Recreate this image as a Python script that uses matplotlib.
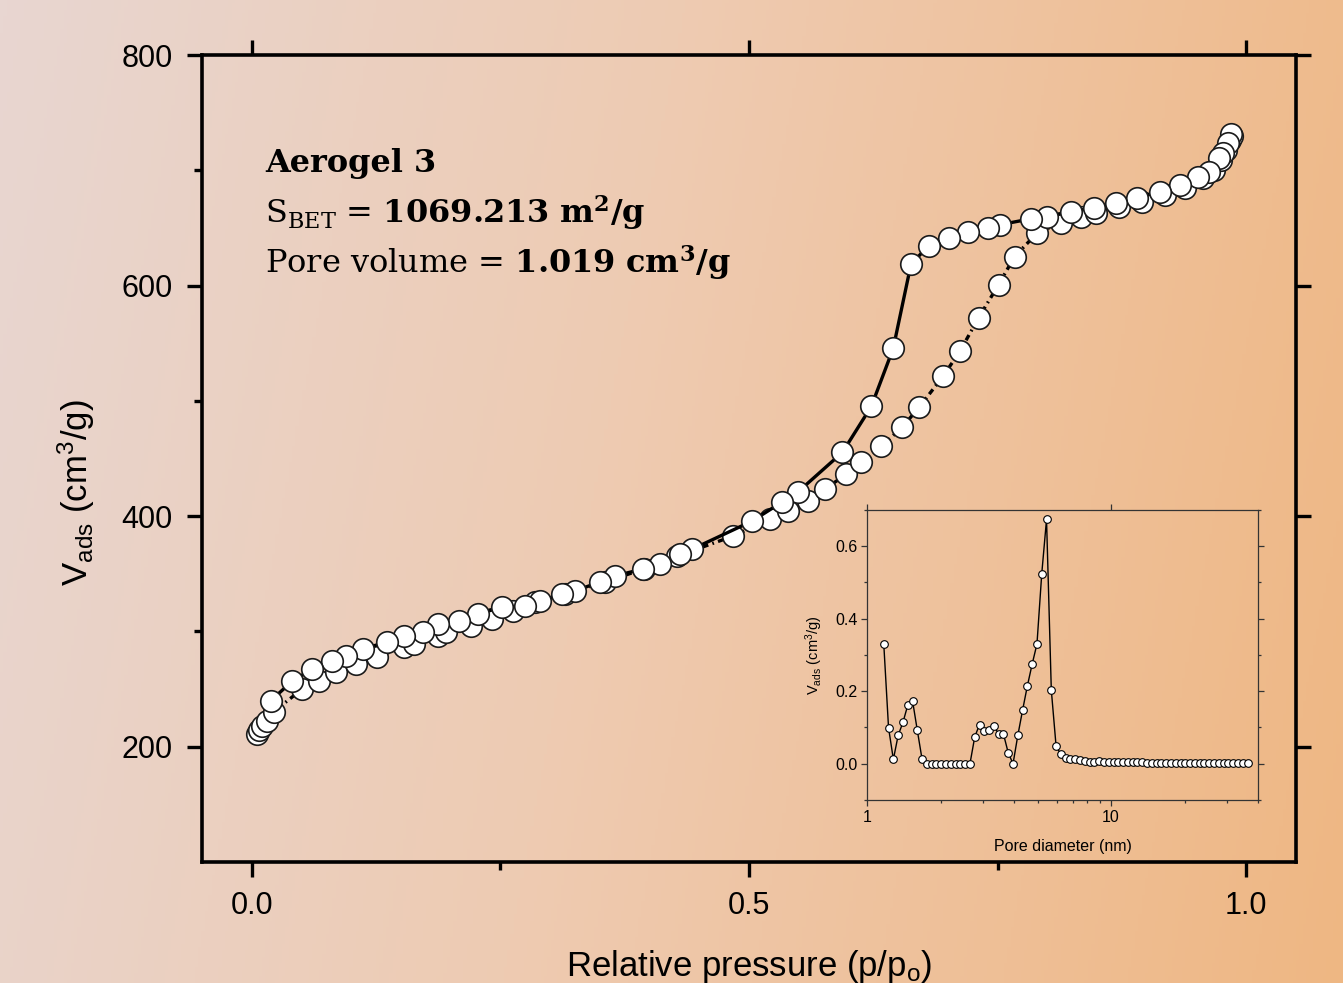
import matplotlib
matplotlib.use("Agg")
import matplotlib.pyplot as plt
import numpy as np
from matplotlib.colors import LinearSegmentedColormap
from matplotlib.ticker import MultipleLocator, FixedLocator, NullFormatter

plt.rcParams["font.family"] = ["Liberation Sans", "DejaVu Sans"]
plt.rcParams["mathtext.fontset"] = "custom"
plt.rcParams["mathtext.rm"] = "Liberation Sans"
plt.rcParams["mathtext.bf"] = "DejaVu Serif:bold"
plt.rcParams["mathtext.default"] = "regular"

# N2 isotherm, adsorption branch (p/p0, cm3/g)
ads_p = [0.005, 0.007, 0.010, 0.015, 0.022, 0.051, 0.068, 0.085, 0.105, 0.126,
         0.153, 0.163, 0.187, 0.195, 0.220, 0.242, 0.263, 0.285, 0.315, 0.355,
         0.394, 0.428, 0.484, 0.521, 0.539, 0.559, 0.576, 0.598, 0.613, 0.633,
         0.654, 0.671, 0.695, 0.712, 0.731, 0.751, 0.767, 0.790, 0.814, 0.834,
         0.849, 0.872, 0.895, 0.918, 0.938, 0.956, 0.968, 0.975, 0.980, 0.984,
         0.986]
ads_v = [211.3, 214.7, 218.2, 222.5, 230.3, 250.2, 257.1, 264.9, 271.9, 277.9,
         286.6, 289.2, 296.1, 299.6, 304.8, 310.8, 317.7, 325.5, 332.5, 342.9,
         354.1, 365.4, 382.7, 397.4, 404.3, 413.0, 423.4, 436.4, 446.8, 460.6,
         477.1, 494.4, 521.2, 542.9, 572.3, 600.9, 625.1, 645.9, 654.5, 659.7,
         663.2, 668.4, 672.7, 678.8, 684.8, 693.5, 700.4, 709.1, 717.7, 726.4,
         729.9]

# desorption branch
des_p = [0.985, 0.982, 0.977, 0.973, 0.963, 0.951, 0.933, 0.913, 0.890, 0.869,
         0.847, 0.824, 0.800, 0.784, 0.752, 0.740, 0.720, 0.701, 0.681, 0.663,
         0.645, 0.623, 0.594, 0.549, 0.533, 0.503, 0.443, 0.431, 0.411, 0.393,
         0.365, 0.350, 0.325, 0.312, 0.290, 0.275, 0.252, 0.228, 0.208, 0.187,
         0.172, 0.153, 0.136, 0.112, 0.095, 0.081, 0.061, 0.041, 0.019]
des_v = [731.6, 723.8, 715.2, 710.8, 698.7, 694.4, 687.5, 681.4, 676.2, 671.9,
         667.6, 664.1, 659.7, 658.0, 652.8, 650.2, 646.8, 641.6, 634.6, 619.0,
         545.5, 495.2, 455.4, 420.8, 412.1, 395.7, 371.4, 367.1, 358.4, 354.1,
         348.1, 342.9, 335.1, 332.5, 326.4, 322.1, 321.2, 315.2, 309.1, 306.5,
         299.6, 296.1, 290.9, 284.8, 278.8, 274.5, 267.5, 257.1, 239.8]

# pore size distribution (inset)
pore_d = [1.171, 1.225, 1.282, 1.341, 1.403, 1.468, 1.536, 1.607, 1.681, 1.759,
          1.840, 1.925, 2.014, 2.107, 2.204, 2.306, 2.413, 2.524, 2.641, 2.763,
          2.890, 3.024, 3.163, 3.310, 3.462, 3.622, 3.790, 3.965, 4.148, 4.340,
          4.540, 4.750, 4.969, 5.199, 5.439, 5.690, 5.953, 6.228, 6.516, 6.817,
          7.132, 7.461, 7.806, 8.167, 8.544, 8.939, 9.352, 9.784, 10.24, 10.71,
          11.20, 11.72, 12.26, 12.83, 13.42, 14.04, 14.69, 15.37, 16.08, 16.82,
          17.60, 18.41, 19.26, 20.15, 21.08, 22.06, 23.08, 24.14, 25.26, 26.42,
          27.64, 28.92, 30.26, 31.65, 33.12, 34.65, 36.25]
pore_v = [0.330, 0.099, 0.012, 0.078, 0.114, 0.161, 0.174, 0.092, 0.012, 0.0,
          0.0, 0.0, 0.0, 0.0, 0.0, 0.0, 0.0, 0.0, 0.0, 0.074,
          0.108, 0.090, 0.092, 0.104, 0.082, 0.082, 0.030, 0.0, 0.078, 0.148,
          0.215, 0.275, 0.330, 0.524, 0.674, 0.203, 0.048, 0.026, 0.015, 0.013,
          0.013, 0.011, 0.008, 0.006, 0.006, 0.007, 0.005, 0.004, 0.004, 0.004,
          0.004, 0.004, 0.004, 0.004, 0.004, 0.003, 0.003, 0.003, 0.003, 0.003,
          0.003, 0.003, 0.003, 0.003, 0.003, 0.003, 0.003, 0.003, 0.003, 0.003,
          0.003, 0.003, 0.003, 0.003, 0.003, 0.003, 0.003]

fig = plt.figure(figsize=(13.43, 9.83), dpi=100)

# gradient background
bg = fig.add_axes([0, 0, 1, 1], zorder=-10)
gx, gy = np.meshgrid(np.linspace(0, 1, 400), np.linspace(0, 1, 300))
t = np.clip(gx * 0.88 + gy * 0.12, 0, 1)
cmap = LinearSegmentedColormap.from_list(
    "bg", [(0, "#e8d6d1"), (0.45, "#eecbb2"), (1, "#eeb783")])
bg.imshow(t, cmap=cmap, extent=[0, 1, 0, 1], aspect="auto", origin="upper")
bg.axis("off")

ax = fig.add_axes([0.1504, 0.1231, 0.8146, 0.8209])
ax.set_facecolor("none")
mk = dict(marker="o", ms=15.5, mfc="white", mec="#1a1a1a", mew=1.2)
ax.plot(ads_p, ads_v, color="black", lw=2.4,
        linestyle=(0, (1.8, 1.3, 0.5, 1.3)), **mk)
ax.plot(des_p, des_v, color="black", lw=2.4, linestyle="-", **mk)

ax.set_xlim(-0.05, 1.05)
ax.set_ylim(100, 800)
ax.xaxis.set_major_locator(FixedLocator([0.0, 0.5, 1.0]))
ax.xaxis.set_minor_locator(FixedLocator([0.25, 0.75]))
ax.yaxis.set_major_locator(FixedLocator([200, 400, 600, 800]))
ax.yaxis.set_minor_locator(FixedLocator([300, 500, 700]))
ax.set_xticklabels(["0.0", "0.5", "1.0"])
for s in ax.spines.values():
    s.set_linewidth(2.6)
ax.tick_params(which="major", direction="out", length=11, width=2.4,
               labelsize=22, pad=10, top=True, right=True)
ax.tick_params(which="minor", direction="out", length=6, width=2.4,
               top=False, right=False)
ax.set_xlabel(r"Relative pressure (p/p$_o$)", fontsize=25)
ax.set_ylabel(r"V$_{ads}$ (cm$^3$/g)", fontsize=25)
ax.xaxis.set_label_coords(0.5, -0.106)
ax.yaxis.set_label_coords(-0.096, 0.458)

serif = "DejaVu Serif"
ax.text(0.058, 0.855, "Aerogel 3", transform=ax.transAxes, fontsize=23,
        fontweight="bold", family=serif)
ax.text(0.058, 0.792, r"S$_{BET}$ = $\mathbf{1069.213\ m^2/g}$",
        transform=ax.transAxes, fontsize=23, family=serif)
ax.text(0.058, 0.730, r"Pore volume = $\mathbf{1.019\ cm^3/g}$",
        transform=ax.transAxes, fontsize=23, family=serif)

# inset: pore size distribution
ins = fig.add_axes([0.6456, 0.1862, 0.2911, 0.2950])
ins.set_facecolor("none")
ins.plot(pore_d, pore_v, color="black", lw=1.0, marker="o", ms=5.5,
         mfc="white", mec="black", mew=0.8)
ins.set_xscale("log")
ins.set_xlim(1, 40)
ins.set_ylim(-0.1, 0.7)
ins.yaxis.set_major_locator(MultipleLocator(0.2))
ins.yaxis.set_minor_locator(MultipleLocator(0.1))
ins.xaxis.set_major_locator(FixedLocator([1, 10]))
ins.xaxis.set_minor_locator(FixedLocator([2, 3, 4, 5, 6, 7, 8, 9, 20, 30, 40]))
ins.xaxis.set_minor_formatter(NullFormatter())
ins.set_xticklabels(["1", "10"])
for s in ins.spines.values():
    s.set_linewidth(0.9)
    s.set_color("#333333")
ins.tick_params(which="major", direction="out", length=4, width=0.9,
                labelsize=11.5, pad=3, right=True, top=True, color="#333333")
ins.tick_params(which="minor", direction="out", length=2.5, width=0.9,
                right=True, color="#333333")
ins.set_xlabel("Pore diameter (nm)", fontsize=11.5, labelpad=10)
ins.set_ylabel(r"V$_{ads}$ (cm$^3$/g)", fontsize=10.5, labelpad=7)

fig.savefig("out.png", dpi=100)
